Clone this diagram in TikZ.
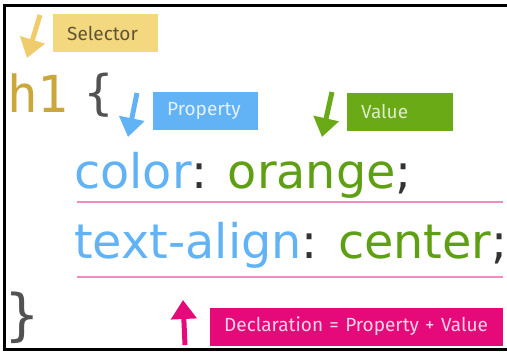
\documentclass[tikz,border=0pt]{standalone}
\usepackage{fontspec}
\setmainfont{DejaVu Sans}
\setmonofont{DejaVu Sans Mono}
\newfontfamily\labelfont{Fira Sans}
\usetikzlibrary{arrows.meta,positioning}

\definecolor{selyellow}{HTML}{F3D880}
\definecolor{selarrowc}{HTML}{EFCD6C}
\definecolor{seltext}{HTML}{5F5535}
\definecolor{hcolor}{HTML}{C9A73B}
\definecolor{propblue}{HTML}{62B3F6}
\definecolor{proptext}{HTML}{E4F1FE}
\definecolor{valgreen}{HTML}{6AAA17}
\definecolor{valtext}{HTML}{DDECC8}
\definecolor{codegreen}{HTML}{5F9F14}
\definecolor{declpink}{HTML}{E6097A}
\definecolor{decltext}{HTML}{F8D2E5}
\definecolor{linepink}{HTML}{F38BBE}
\definecolor{codegray}{HTML}{333333}

\begin{document}
\begin{tikzpicture}[x=1pt,y=-1pt]
	\tikzstyle{tag}=[rectangle, anchor=west, minimum height=38, inner xsep=14, inner ysep=0, align=left, font=\labelfont\fontsize{19}{19}\selectfont]
	\tikzstyle{code}=[anchor=base west, inner sep=0, font=\fontsize{47.7}{50}\selectfont]
	\tikzstyle{fat}=[line width=5, -{Triangle[width=25pt,length=19pt]}]
	\tikzstyle{underline}=[line width=2, linepink]

	\useasboundingbox (0,0) rectangle (507,356);
	\draw [line width=3] (507,5.5) -- (4.7,5.5) -- (4.7,349.5) -- (507,349.5);

	% labels
	\node [tag, fill=selyellow, text=seltext, text width=77pt] (selector) at (53,33) {Selector};
	\node [tag, fill=propblue, text=proptext, text width=77pt] (property) at (153,111) {Property};
	\node [tag, fill=valgreen, text=valtext, text width=78pt] (value) at (347,111.5) {Value};
	\node [tag, fill=declpink, text=decltext, text width=265pt] (declaration) at (210,326.5) {Declaration = Property + Value};

	% code
	\node [code, text=hcolor, font=\ttfamily\fontsize{51}{54}\selectfont] (h1) at (7,112) {h1};
	\node [inner sep=0, text=codegray!85, font=\ttfamily\fontsize{48}{50}\selectfont] (open) at (99,95) {\{};
	\node [inner sep=0, text=codegray!85, font=\ttfamily\fontsize{56}{58}\selectfont] (close) at (22,318) {\}};
	\node [code] (colorline) at (74,188) {\textcolor{propblue}{color}\textcolor{codegray}{:} \textcolor{codegreen}{orange}\textcolor{codegray}{;}};
	\node [code] (alignline) at (74,258) {\textcolor{propblue}{text-align}\textcolor{codegray}{:} \textcolor{codegreen}{center}\textcolor{codegray}{;}};

	% underlines
	\coordinate (u1a) at (77,202);
	\coordinate (u1b) at (503,202);
	\coordinate (u2a) at (77,277);
	\coordinate (u2b) at (503,277);
	\draw [underline] (u1a) -- (u1b);
	\draw [underline] (u2a) -- (u2b);

	% arrows
	\coordinate (selTail) at (40,15);
	\coordinate (selTip) at (27,58);
	\coordinate (propTail) at (137,93);
	\coordinate (propTip) at (128,137);
	\coordinate (valTail) at (332,92);
	\coordinate (valTip) at (322,137);
	\coordinate (declTail) at (185,345);
	\coordinate (declTip) at (183,300);
	\draw [fat, selarrowc] (selTail) -- (selTip);
	\draw [fat, propblue] (propTail) -- (propTip);
	\draw [fat, valgreen] (valTail) -- (valTip);
	\draw [fat, declpink] (declTail) -- (declTip);
\end{tikzpicture}
\end{document}
